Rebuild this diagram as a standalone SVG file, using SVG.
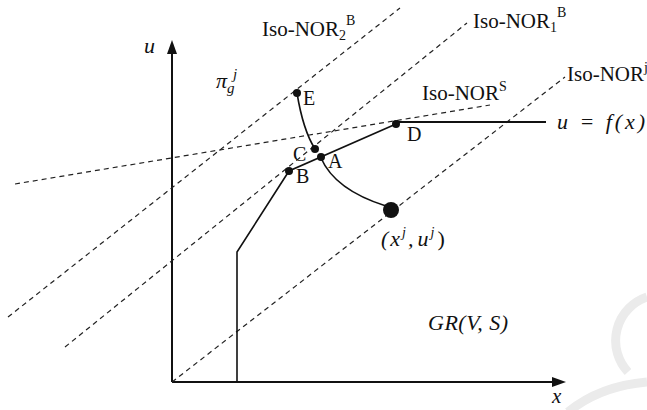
<svg xmlns="http://www.w3.org/2000/svg" width="647" height="410" viewBox="0 0 647 410">
<style>
.dash{fill:none;stroke:#222;stroke-width:1.2;stroke-dasharray:5 4}
.sol{fill:none;stroke:#111;stroke-width:1.6}
.ax{fill:none;stroke:#111;stroke-width:2}
.dot{fill:#111}
.rm{font-family:"Liberation Serif",serif;fill:#111}
.it{font-family:"Liberation Serif",serif;font-style:italic;fill:#111}
.wm{fill:none;stroke:#ebebeb;stroke-width:9}
</style>
<rect width="647" height="410" fill="#fff"/>
<g id="watermark">
<path class="wm" d="M647,297 A46 46 0 0 0 628,372"/>
<path class="wm" d="M568,412 Q600,386 647,382"/>
</g>
<g id="axes">
<path class="ax" d="M172,382 L172,52"/>
<path d="M172,40 L177,54 L167,54 Z" fill="#111"/>
<path class="ax" d="M172,382 L554,382"/>
<path d="M566,382 L552,377 L552,387 Z" fill="#111"/>
<text class="it" x="144" y="53" font-size="22">u</text>
<text class="it" x="552" y="403" font-size="21">x</text>
</g>
<g id="connectors">
<path class="dash" d="M8,317 L400,8"/>
<path class="dash" d="M65,347 L467,23"/>
<path class="dash" d="M172,382 L565,77"/>
<path class="dash" d="M15,184 L490,105"/>
<path class="sol" d="M237,382 L237,252 L289,171 L396,124"/>
<path class="ax" d="M396,122 L546,122" stroke-width="2.4"/>
<path class="sol" d="M297,93 Q303,130 315,149"/>
<path class="sol" d="M321,158 Q335,190 386,206"/>
</g>
<g id="E"><circle class="dot" cx="297" cy="93" r="4"/><text class="rm" x="303" y="105" font-size="20">E</text></g>
<g id="C"><circle class="dot" cx="315" cy="149" r="4"/><text class="rm" x="293" y="161" font-size="20">C</text></g>
<g id="A"><circle class="dot" cx="321" cy="157" r="4"/><text class="rm" x="328" y="168" font-size="20">A</text></g>
<g id="B"><circle class="dot" cx="289" cy="171" r="4"/><text class="rm" x="296" y="183" font-size="20">B</text></g>
<g id="D"><circle class="dot" cx="396" cy="124" r="4"/><text class="rm" x="407" y="141" font-size="20">D</text></g>
<g id="Xj"><circle class="dot" cx="391" cy="210" r="8"/>
<text class="it" x="381" y="246" font-size="22">(<tspan dx="2">x</tspan><tspan font-size="14" dy="-9" dx="2">j</tspan><tspan dy="9" dx="2">,</tspan><tspan dx="4">u</tspan><tspan font-size="14" dy="-9" dx="2">j</tspan><tspan dy="9" dx="3" font-style="normal">)</tspan></text></g>
<g id="labels">
<text class="rm" x="262" y="36" font-size="21">Iso-NOR<tspan font-size="14" dy="4">2</tspan><tspan font-size="14" dy="-15">B</tspan></text>
<text class="rm" x="473" y="28" font-size="21">Iso-NOR<tspan font-size="14" dy="4">1</tspan><tspan font-size="14" dy="-15">B</tspan></text>
<text class="rm" x="422" y="100" font-size="21">Iso-NOR<tspan font-size="14" dy="-9">S</tspan></text>
<text class="rm" x="567" y="81" font-size="21">Iso-NOR<tspan font-size="14" dy="-9">j</tspan></text>
<text class="it" x="557" y="129" font-size="22" textLength="88" lengthAdjust="spacing">u = f(x)</text>
<text class="it" x="428" y="330" font-size="22" textLength="80" lengthAdjust="spacing">GR(V, S)</text>
<text class="it" x="216" y="88" font-size="22">π<tspan font-size="15" dy="5">g</tspan></text>
<text class="it" x="233" y="79" font-size="15">j</text>
</g>
</svg>
